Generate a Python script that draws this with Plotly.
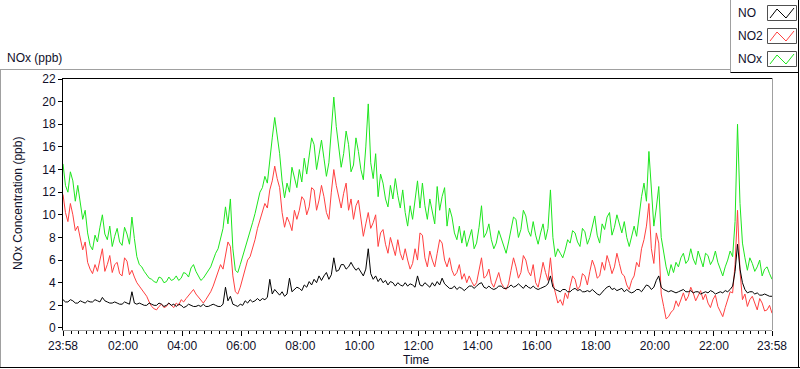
import pandas as pd
import plotly.graph_objects as go

# ---------------- data (5-minute samples from 23:58 to 23:58) ----------------
start_time = "2020-01-01 23:58"
step = "5min"

nox = [14.5, 12.6, 12.0, 13.8, 13.0, 11.2, 12.6, 11.0, 9.6, 10.4, 8.4, 7.3, 6.9, 8.2, 7.6, 8.9, 10.0, 8.3, 7.8, 9.0,
       7.2, 8.1, 8.8, 7.6, 7.3, 8.9, 8.3, 7.4, 9.8, 7.9, 6.3, 5.6, 5.4, 5.0, 4.7, 4.4, 4.3, 4.1, 4.0, 4.5,
       4.4, 4.0, 4.1, 4.5, 4.2, 4.3, 4.6, 4.2, 4.4, 4.9, 4.8, 4.5, 5.3, 5.6, 5.0, 4.6, 4.2, 4.4, 4.7, 5.0,
       5.4, 6.0, 6.6, 7.0, 7.8, 8.8, 10.7, 9.2, 11.4, 7.0, 5.1, 4.9, 5.6, 6.3, 7.2, 7.9, 8.6, 9.3, 10.1, 11.0,
       12.0, 12.4, 13.4, 12.8, 15.0, 16.8, 18.6, 17.0, 15.4, 13.0, 11.5, 12.8, 12.0, 14.2, 13.3, 12.4, 14.0, 12.9, 15.0, 13.6,
       15.2, 16.8, 16.2, 14.0, 15.3, 16.6, 15.0, 13.4, 14.6, 17.2, 20.4, 17.8, 16.0, 14.2, 15.4, 17.4, 16.2, 13.8, 14.4, 16.8,
       15.6, 14.0, 13.1, 16.0, 19.8, 14.6, 13.2, 15.4, 11.6, 13.6, 12.8, 11.4, 10.7, 12.6, 11.4, 13.2, 11.7, 10.6, 12.2, 10.2,
       9.0, 10.8, 9.6, 11.2, 13.0, 10.6, 12.8, 10.8, 9.6, 11.4, 10.4, 9.2, 12.5, 10.4, 11.6, 12.4, 9.0, 10.6, 9.8, 8.4,
       7.8, 9.0, 7.5, 8.6, 7.2, 7.9, 8.7, 7.0, 7.5, 8.9, 10.8, 8.0, 8.4, 9.2, 7.8, 7.0, 7.5, 8.6, 7.9, 7.1,
       6.6, 7.6, 8.7, 9.8, 9.6, 8.0, 8.7, 10.4, 9.9, 8.6, 8.1, 9.4, 8.2, 7.4, 8.4, 9.2, 7.8, 8.8, 12.2, 8.0,
       6.3, 7.0, 6.6, 6.2, 6.9, 7.8, 7.5, 8.6, 8.4, 7.6, 7.2, 8.8, 8.5, 7.4, 8.0, 8.9, 9.9, 8.2, 7.5, 9.2,
       8.7, 9.8, 10.2, 8.2, 8.9, 10.0, 9.3, 8.4, 9.4, 8.0, 7.2, 8.2, 9.0, 8.1, 10.0, 11.6, 12.8, 11.2, 15.6, 11.8,
       9.0, 10.6, 12.5, 8.0, 6.6, 5.4, 4.6, 5.6, 4.9, 5.8, 5.4, 6.2, 6.6, 5.7, 6.0, 7.0, 6.1, 5.6, 6.8, 6.0,
       5.4, 6.6, 6.4, 5.6, 6.0, 6.8, 5.8, 5.2, 4.6, 5.4, 6.0, 6.8, 6.3, 9.4, 18.0, 11.0, 7.5, 6.2, 5.1, 6.2,
       5.7, 5.0, 5.4, 6.0, 4.6, 5.2, 5.4, 4.8, 4.3]

no2 = [11.8, 10.2, 9.4, 11.0, 10.0, 8.6, 9.0, 8.0, 6.9, 7.6, 5.8, 5.2, 4.8, 5.6, 5.0, 6.0, 7.0, 5.0, 5.6, 6.4,
       4.9, 5.6, 5.8, 4.8, 4.6, 6.2, 5.9, 4.7, 5.1, 4.5, 4.0, 3.7, 3.4, 3.0, 2.8, 2.3, 1.9, 1.7, 1.6, 1.9,
       2.1, 1.8, 1.9, 2.2, 2.0, 1.8, 2.2, 2.0, 2.5, 2.3, 2.6, 2.9, 3.2, 3.4, 3.0, 2.7, 2.4, 2.2, 2.5, 2.8,
       3.2, 3.7, 4.3, 4.9, 5.6, 5.2, 6.4, 7.6, 7.2, 4.6, 3.2, 3.0, 3.6, 4.4, 5.4, 6.0, 6.3, 7.0, 7.8, 8.8,
       9.6, 10.4, 11.0, 10.6, 12.2, 13.0, 14.3, 13.2, 12.4, 10.2, 8.9, 9.8, 9.3, 8.6, 10.4, 9.6, 10.4, 11.6, 11.3, 10.0,
       10.7, 12.4, 12.2, 10.4, 11.3, 12.6, 11.6, 10.2, 9.6, 12.0, 14.0, 12.6, 11.6, 10.6, 11.9, 12.8, 10.4, 11.4, 9.6, 10.8,
       11.3, 9.8, 8.1, 9.2, 10.2, 8.8, 9.3, 10.0, 7.2, 8.4, 8.7, 7.4, 6.6, 8.0, 7.3, 6.4, 7.8, 6.6, 6.0, 7.0,
       6.0, 5.2, 5.7, 7.0, 6.0, 8.4, 8.2, 6.2, 5.4, 6.8, 6.0, 5.4, 6.6, 7.8, 7.5, 6.0, 5.4, 6.2, 5.1, 4.6,
       4.9, 5.6, 4.3, 4.8, 4.0, 4.6, 4.1, 3.7, 4.0, 5.0, 6.2, 4.4, 4.6, 5.2, 4.0, 3.6, 4.3, 4.9, 4.0, 3.6,
       3.4, 3.9, 5.1, 6.2, 5.4, 4.4, 4.9, 6.4, 6.0, 5.0, 4.6, 5.6, 4.0, 3.6, 4.6, 5.8, 4.9, 4.2, 6.2, 4.0,
       3.1, 2.2, 2.5, 2.0, 3.1, 2.6, 3.7, 4.6, 4.3, 3.4, 3.7, 4.8, 4.6, 3.8, 5.0, 6.0, 5.4, 4.4, 4.6, 5.8,
       5.1, 6.4, 5.7, 4.8, 5.4, 6.6, 5.7, 4.8, 4.6, 3.8, 3.4, 4.2, 4.6, 5.8, 5.4, 7.0, 7.8, 9.0, 11.0, 7.0,
       5.7, 8.4, 7.5, 3.0, 1.9, 0.8, 1.0, 1.4, 1.6, 2.4, 1.9, 2.6, 3.1, 2.4, 2.8, 3.6, 3.1, 2.4, 2.8, 3.3,
       2.5, 3.0, 2.2, 1.8, 2.5, 2.9, 1.9, 1.4, 1.0, 1.8, 2.5, 3.2, 3.1, 5.6, 10.4, 5.0, 2.5, 3.0, 1.9, 2.5,
       2.8, 2.2, 1.6, 2.6, 2.2, 1.5, 1.6, 2.0, 1.3]

no = [2.5, 2.3, 2.3, 2.5, 2.4, 2.2, 2.2, 2.4, 2.3, 2.2, 2.4, 2.3, 2.3, 2.5, 2.4, 2.3, 2.7, 2.4, 2.3, 2.2,
      2.2, 2.3, 2.2, 2.1, 2.1, 2.3, 2.2, 2.1, 3.2, 2.2, 2.1, 2.2, 2.1, 2.0, 2.0, 2.2, 2.1, 2.0, 2.0, 2.2,
      2.1, 1.9, 2.0, 2.2, 2.0, 2.1, 1.9, 2.1, 2.0, 1.8, 1.9, 2.1, 2.0, 1.9, 1.9, 2.0, 1.9, 2.1, 1.9, 1.9,
      2.0, 2.1, 2.0, 1.9, 1.9, 2.1, 3.6, 2.4, 2.8, 2.1, 2.0, 1.9, 2.1, 2.0, 2.4, 2.2, 2.5, 2.3, 2.4, 2.6,
      2.4, 2.6, 2.5, 2.7, 4.3, 3.0, 3.4, 3.1, 2.9, 3.2, 2.8, 3.0, 4.4, 3.2, 3.4, 3.6, 3.5, 3.3, 3.8, 3.6,
      4.1, 3.8, 4.3, 4.0, 4.6, 4.2, 4.6, 4.9, 4.3, 4.7, 6.2, 5.0, 5.1, 5.6, 5.6, 5.2, 5.4, 5.8, 5.4, 5.1,
      5.3, 4.9, 4.6, 5.2, 7.0, 4.8, 4.3, 4.6, 4.1, 4.4, 4.0, 4.2, 3.8, 4.1, 4.0, 3.7, 4.0, 3.8, 3.7, 4.0,
      3.7, 3.9, 3.8, 3.6, 4.6, 3.8, 3.7, 4.0, 3.8, 3.6, 4.0, 3.7, 4.1, 3.8, 4.4, 3.9, 3.7, 3.5, 3.5, 3.7,
      3.4, 3.6, 3.5, 3.3, 3.5, 3.7, 3.7, 3.5, 3.7, 3.9, 4.0, 3.6, 3.5, 3.7, 3.5, 3.4, 3.5, 3.7, 3.7, 3.5,
      3.5, 3.6, 3.8, 3.6, 3.7, 3.9, 3.7, 3.5, 3.8, 3.6, 3.5, 3.7, 3.5, 3.4, 3.5, 3.6, 3.7, 3.9, 4.6, 3.6,
      3.4, 3.3, 3.2, 3.4, 3.4, 3.2, 3.2, 3.4, 3.5, 3.3, 3.4, 3.2, 3.2, 3.3, 3.2, 3.4, 3.2, 3.0, 2.9, 3.2,
      3.4, 3.6, 3.7, 3.4, 3.5, 3.3, 3.4, 3.5, 3.2, 3.4, 3.2, 3.1, 3.2, 3.4, 3.4, 3.2, 3.5, 3.8, 3.7, 3.4,
      3.6, 4.2, 4.6, 3.6, 3.4, 3.3, 3.2, 3.3, 3.2, 3.1, 3.2, 3.3, 3.4, 3.2, 3.2, 3.3, 3.1, 3.2, 3.2, 3.0,
      3.1, 3.2, 3.1, 3.3, 3.2, 3.0, 3.1, 3.2, 3.1, 3.3, 3.2, 3.4, 3.7, 5.0, 7.4, 5.2, 4.0, 3.4, 3.1, 3.2,
      3.2, 3.0, 3.1, 2.9, 2.9, 3.0, 2.9, 2.8, 2.8]

tick_times = ["2020-01-01 23:58", "2020-01-02 02:00", "2020-01-02 04:00",
              "2020-01-02 06:00", "2020-01-02 08:00", "2020-01-02 10:00",
              "2020-01-02 12:00", "2020-01-02 14:00", "2020-01-02 16:00",
              "2020-01-02 18:00", "2020-01-02 20:00", "2020-01-02 22:00",
              "2020-01-02 23:58"]
tick_labels = ["23:58", "02:00", "04:00", "06:00", "08:00", "10:00", "12:00",
               "14:00", "16:00", "18:00", "20:00", "22:00", "23:58"]
y_ticks = [0, 2, 4, 6, 8, 10, 12, 14, 16, 18, 20, 22]

series_names = ["NO", "NO2", "NOx"]
series_colors = ["#000000", "#ff4040", "#1ee61e"]

# ---------------- layout geometry (pixels) ----------------
W, H = 800, 369
L, R, T, B = 63, 772, 78, 330
FONT = "Liberation Sans"
TXT = "#10102a"


def px(x):
    return (x - L) / (R - L)


def py(y):
    return (B - y) / (B - T)


fig = go.Figure()
for name, vals, col in [("NOx", nox, series_colors[2]),
                        ("NO2", no2, series_colors[1]),
                        ("NO", no, series_colors[0])]:
    t = pd.date_range(start_time, periods=len(vals), freq=step)
    fig.add_trace(go.Scatter(x=t, y=vals, mode="lines", name=name,
                             line=dict(color=col, width=1, shape="linear"),
                             showlegend=False))

shapes = []


def line(x0, y0, x1, y1, color, width=1):
    shapes.append(dict(type="line", xref="paper", yref="paper",
                       x0=px(x0), y0=py(y0), x1=px(x1), y1=py(y1),
                       line=dict(color=color, width=width)))


# plot frame (top black, right gray)
line(L, T + 0.5, R, T + 0.5, "#000000")
line(R + 0.5, T, R + 0.5, B, "#a0a0a0")
# outer panel
line(0, 69.5, 730, 69.5, "#a0a0a0")
line(0.5, 69.5, 0.5, 367.5, "#a0a0a0")
line(0, 367.5, 800, 367.5, "#000000")
line(798.5, 0, 798.5, 368, "#000000")
# legend panel
line(730.5, 0, 730.5, 72.5, "#a0a0a0")
line(730.5, 72.5, 799, 72.5, "#000000")

annotations = []
legend_rows = [13, 36, 59]
for name, col, yc in zip(series_names, series_colors, legend_rows):
    annotations.append(dict(text=name, xref="paper", yref="paper",
                            x=px(736), y=py(yc), xanchor="left", yanchor="middle",
                            showarrow=False, font=dict(family=FONT, size=12, color=TXT)))
    shapes.append(dict(type="rect", xref="paper", yref="paper",
                       x0=px(767.5), x1=px(796.5), y0=py(yc - 7.5), y1=py(yc + 7.5),
                       line=dict(color="#505050", width=1), fillcolor="white"))
    pts = [(770, yc + 5), (777, yc - 4), (786, yc + 5), (794, yc - 5)]
    path = "M " + " L ".join(f"{px(a)},{py(b)}" for a, b in pts)
    shapes.append(dict(type="path", xref="paper", yref="paper", path=path,
                       line=dict(color=col, width=1)))

annotations.append(dict(text="NOx (ppb)", xref="paper", yref="paper",
                        x=px(5), y=py(58), xanchor="left", yanchor="middle",
                        showarrow=False, font=dict(family=FONT, size=12, color=TXT)))
annotations.append(dict(text="NOx Concentration (ppb)", xref="paper", yref="paper",
                        x=px(18), y=py(204), xanchor="center", yanchor="middle",
                        textangle=-90, showarrow=False,
                        font=dict(family=FONT, size=12, color=TXT)))
annotations.append(dict(text="Time", xref="paper", yref="paper",
                        x=px(416), y=py(360), xanchor="center", yanchor="middle",
                        showarrow=False, font=dict(family=FONT, size=12, color=TXT)))

fig.update_layout(
    width=W, height=H,
    margin=dict(l=L, r=W - R, t=T, b=H - B, pad=0),
    paper_bgcolor="white", plot_bgcolor="white",
    showlegend=False,
    shapes=shapes, annotations=annotations,
    font=dict(family=FONT, size=12, color=TXT),
    xaxis=dict(type="date", range=[tick_times[0], tick_times[-1]],
               tickmode="array", tickvals=tick_times, ticktext=tick_labels,
               ticks="outside", ticklen=5, tickwidth=1, tickcolor="#000000",
               showline=True, linecolor="#a0a0a0", linewidth=1,
               showgrid=False, zeroline=False,
               tickfont=dict(family=FONT, size=12, color=TXT),
               minor=dict(ticks="outside", ticklen=3, tickcolor="#000000",
                          tickwidth=1, dtick=900000, tick0="2020-01-02 00:00",
                          showgrid=False)),
    yaxis=dict(range=[-0.18, 22.09], tickmode="array", tickvals=y_ticks,
               ticks="outside", ticklen=4, tickwidth=1, tickcolor="#000000",
               showline=True, linecolor="#000000", linewidth=1,
               showgrid=False, zeroline=False,
               tickfont=dict(family=FONT, size=12, color=TXT)),
)

fig.write_html("out.html", config={"displayModeBar": False},
               post_script="document.body.style.margin='0';document.body.style.overflow='hidden';")
